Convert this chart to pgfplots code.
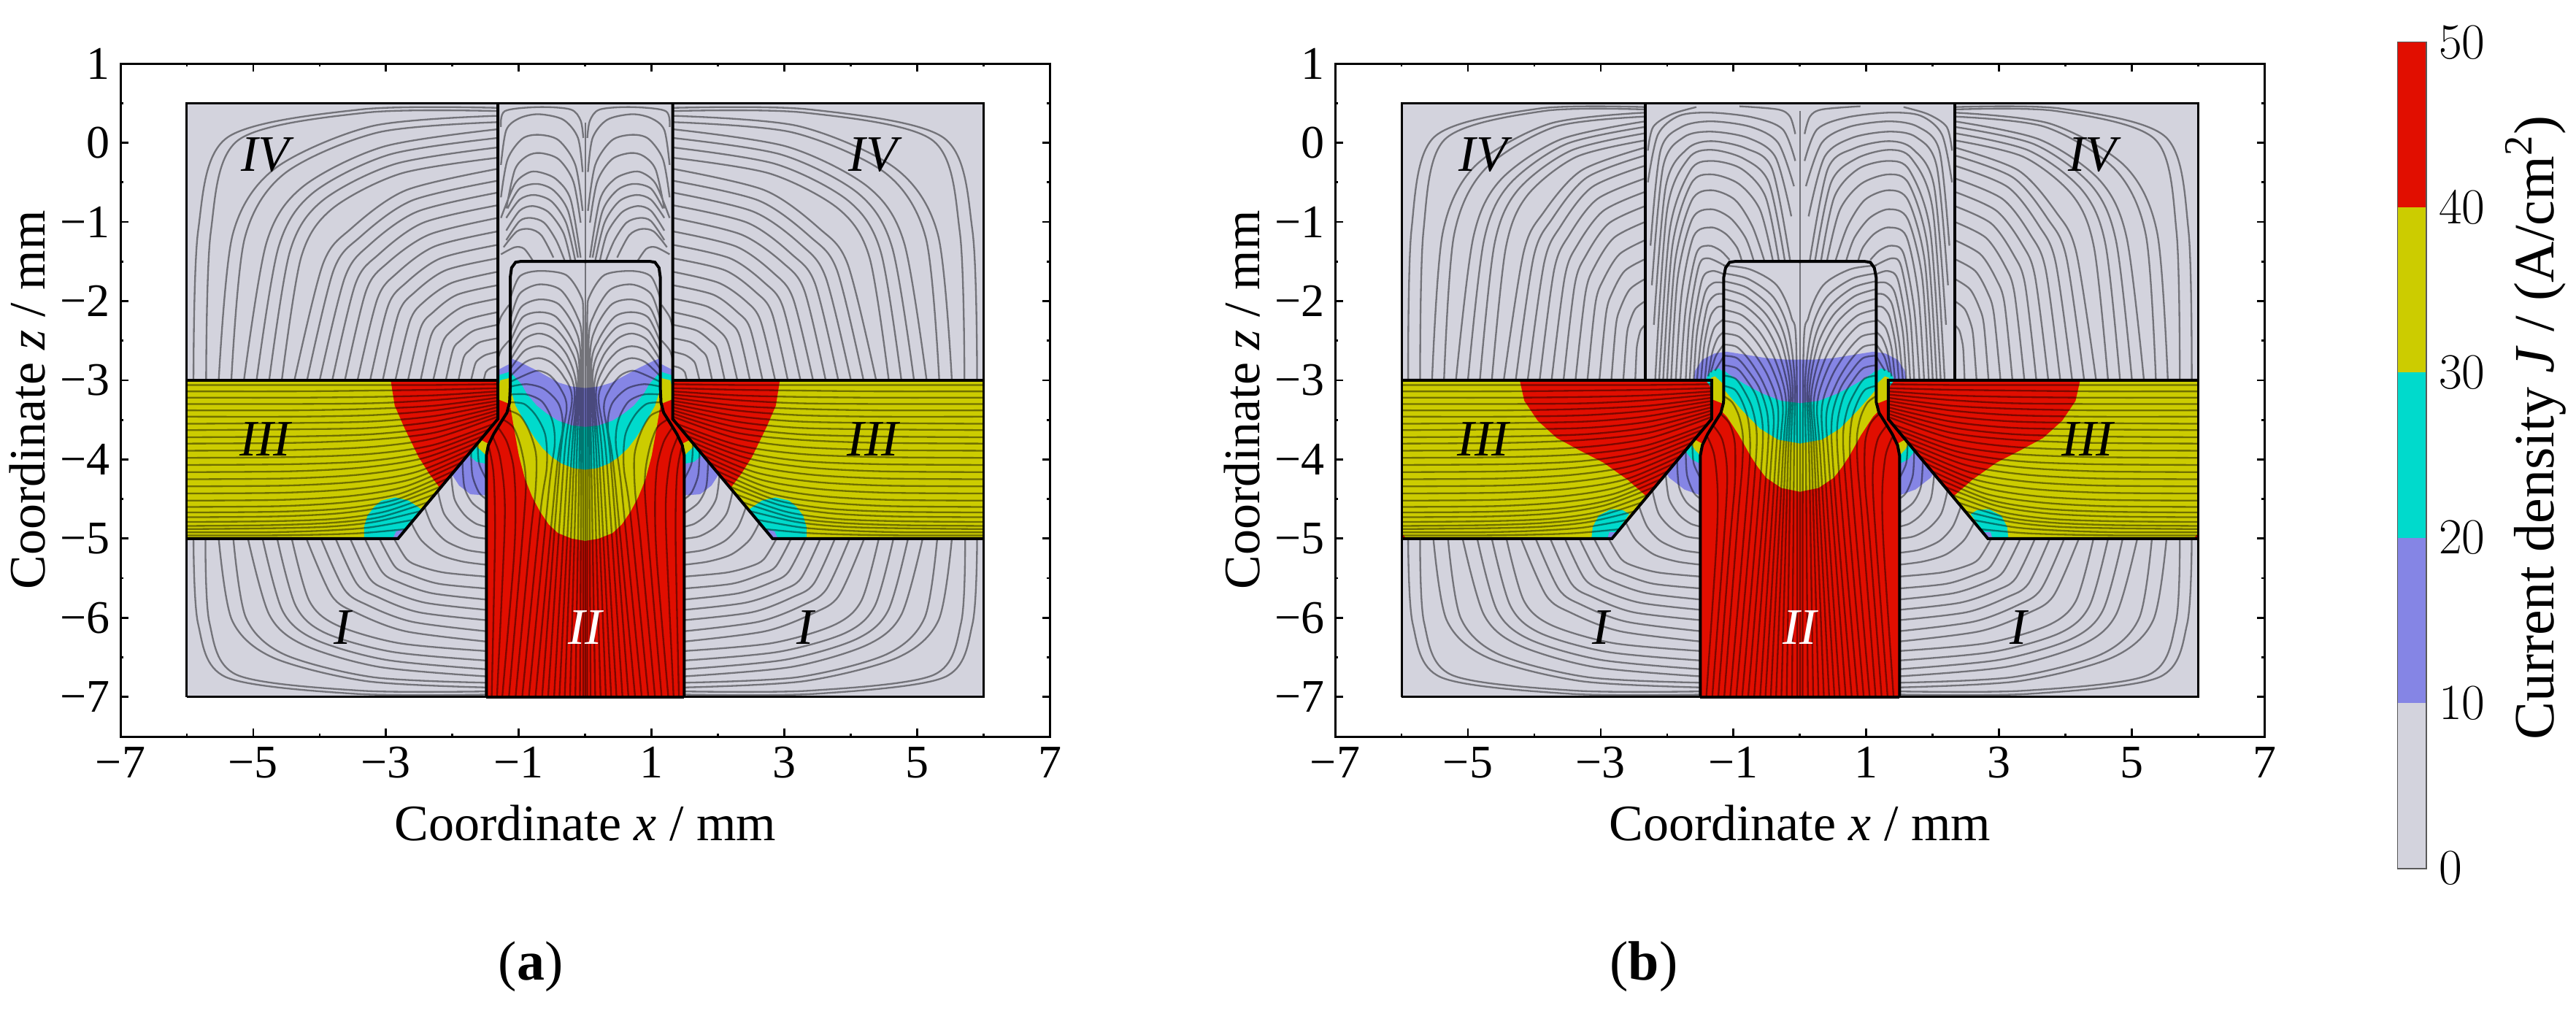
\documentclass[border=0pt]{standalone}
\usepackage{fontspec}
\setmainfont{Liberation Serif}
\usepackage{pgfplots}
\pgfplotsset{compat=1.18}

\definecolor{cgrey}{HTML}{D3D3DD}
\definecolor{cblue}{HTML}{8585E5}
\definecolor{ccyan}{HTML}{00DACC}
\definecolor{cyell}{HTML}{CCCC00}
\definecolor{cred}{HTML}{E10E00}

\tikzset{rlab/.style={font=\fontsize{17.5}{20}\selectfont\itshape}}
\pgfplotsset{
  stream/.style={smooth, black, opacity=0.45, line width=0.58pt, unbounded coords=jump},
  wall/.style={black, line width=1pt},
  ffill/.style={fill=#1, draw=none},
  panel/.style={
    scale only axis, width=318.4pt, height=230.5pt,
    xmin=-7, xmax=7, ymin=-7.5, ymax=1,
    xtick={-7,-5,...,7}, xticklabels={−7,−5,−3,−1,1,3,5,7},
    ytick={-7,-6,...,1}, yticklabels={−7,−6,−5,−4,−3,−2,−1,0,1},
    minor xtick={-6,-4,...,6}, minor ytick={-7.5,-6.5,...,0.5},
    tick align=inside, major tick length=2.75pt, minor tick length=1.1pt,
    tick style={black, line width=0.7pt},
    axis line style={line width=0.75pt},
    tick label style={font=\fontsize{16}{18}\selectfont},
    every axis x label/.style={at={(axis description cs:0.5,-0.129)}, anchor=center, font=\fontsize{17.5}{20}\selectfont},
    every axis y label/.style={at={(axis description cs:-0.0998,0.5)}, anchor=center, rotate=90, font=\fontsize{17.5}{20}\selectfont},
    xlabel={Coordinate \textit{x} / mm},
    ylabel={Coordinate \textit{z} / mm},
  },
}

% plots a left-half list and its mirror image
\newcommand{\both}[2]{%
  \addplot[#1] coordinates {#2};
  \addplot[#1, x filter/.expression={-x}] coordinates {#2};
}

% region I, same in both panels
\newcommand{\streamsI}{\both{stream}{
(-5.9,-5) (-5.83,-6.08) (-5.41,-6.75) (-3.47,-6.96) (-1.49,-6.97) (nan,nan)
(-5.72,-5) (-5.66,-6.06) (-5.25,-6.72) (-3.39,-6.92) (-1.49,-6.93) (nan,nan)
(-5.52,-5) (-5.32,-6.03) (-4.71,-6.5) (-3.3,-6.8) (-1.49,-6.88) (nan,nan)
(-5.3,-5) (-5.11,-6.0) (-4.54,-6.46) (-3.2,-6.75) (-1.49,-6.82) (nan,nan)
(-5.08,-5) (-4.76,-5.96) (-4.25,-6.34) (-3.11,-6.62) (-1.49,-6.74) (nan,nan)
(-4.86,-5) (-4.56,-5.91) (-4.08,-6.27) (-3.01,-6.53) (-1.49,-6.65) (nan,nan)
(-4.64,-5) (-4.36,-5.85) (-3.92,-6.19) (-2.91,-6.43) (-1.49,-6.54) (nan,nan)
(-4.42,-5) (-4.16,-5.78) (-3.75,-6.09) (-2.81,-6.32) (-1.49,-6.42) (nan,nan)
(-4.2,-5) (-3.82,-5.72) (-3.44,-5.94) (-2.71,-6.17) (-1.49,-6.3) (nan,nan)
(-3.98,-5) (-3.63,-5.64) (-3.28,-5.84) (-2.61,-6.05) (-1.49,-6.17) (nan,nan)
(-3.76,-5) (-3.44,-5.57) (-3.12,-5.74) (-2.51,-5.93) (-1.49,-6.03) (nan,nan)
(-3.54,-5) (-3.25,-5.5) (-2.97,-5.65) (-2.41,-5.81) (-1.49,-5.9) (nan,nan)
(-3.32,-5) (-3.06,-5.42) (-2.81,-5.55) (-2.31,-5.69) (-1.49,-5.77) (nan,nan)
(-3.1,-5) (-2.87,-5.35) (-2.65,-5.45) (-2.21,-5.57) (-1.49,-5.63) (nan,nan)
(-2.88,-5) (-2.69,-5.26) (-2.49,-5.35) (-2.12,-5.43) (-1.49,-5.48) (nan,nan)
(-2.62,-4.8) (-2.47,-5.02) (-2.2,-5.2) (-1.85,-5.29) (-1.49,-5.33) (nan,nan)
(-2.42,-4.6) (-2.3,-4.85) (-2.1,-5.03) (-1.8,-5.14) (-1.49,-5.18) (nan,nan)
(-2.22,-4.4) (-2.13,-4.68) (-1.95,-4.86) (-1.72,-4.97) (-1.49,-5.0) (nan,nan)
(-2.02,-4.2) (-1.97,-4.5) (-1.82,-4.7) (-1.65,-4.81) (-1.49,-4.85) (nan,nan)
(-1.85,-4.03) (-1.82,-4.35) (-1.7,-4.55) (-1.49,-4.68) (nan,nan)
(-1.72,-3.9) (-1.7,-4.2) (-1.6,-4.42) (-1.49,-4.5) (nan,nan)
(-1.62,-3.8) (-1.6,-4.05) (-1.49,-4.25)
}}

% region III, same in both panels
\newcommand{\streamsIII}{\both{stream}{
(-6,-3.06) (-4.36,-3.06) (-3.19,-3.06) (-2.26,-3.06) (-1.32,-3.05) (nan,nan)
(-6,-3.14) (-4.36,-3.14) (-3.19,-3.13) (-2.26,-3.12) (-1.32,-3.1) (nan,nan)
(-6,-3.22) (-4.36,-3.22) (-3.19,-3.21) (-2.26,-3.19) (-1.32,-3.14) (nan,nan)
(-6,-3.3) (-4.36,-3.3) (-3.19,-3.29) (-2.26,-3.25) (-1.32,-3.18) (nan,nan)
(-6,-3.38) (-4.36,-3.38) (-3.19,-3.36) (-2.26,-3.32) (-1.32,-3.22) (nan,nan)
(-6,-3.46) (-4.36,-3.46) (-3.19,-3.44) (-2.26,-3.38) (-1.32,-3.26) (nan,nan)
(-6,-3.55) (-4.36,-3.54) (-3.19,-3.52) (-2.26,-3.45) (-1.32,-3.3) (nan,nan)
(-6,-3.63) (-4.36,-3.62) (-3.19,-3.6) (-2.26,-3.52) (-1.32,-3.34) (nan,nan)
(-6,-3.72) (-4.36,-3.71) (-3.19,-3.68) (-2.26,-3.59) (-1.32,-3.38) (nan,nan)
(-6,-3.8) (-4.36,-3.79) (-3.19,-3.75) (-2.26,-3.66) (-1.32,-3.42) (nan,nan)
(-6,-3.89) (-4.36,-3.88) (-3.19,-3.84) (-2.26,-3.73) (-1.32,-3.46) (nan,nan)
(-6,-3.98) (-4.38,-3.97) (-3.23,-3.93) (-2.3,-3.82) (-1.38,-3.55) (nan,nan)
(-6,-4.07) (-4.41,-4.06) (-3.27,-4.02) (-2.36,-3.9) (-1.45,-3.62) (nan,nan)
(-6,-4.16) (-4.44,-4.15) (-3.32,-4.1) (-2.42,-3.98) (-1.53,-3.7) (nan,nan)
(-6,-4.25) (-4.46,-4.24) (-3.37,-4.19) (-2.49,-4.07) (-1.61,-3.78) (nan,nan)
(-6,-4.34) (-4.49,-4.33) (-3.41,-4.28) (-2.55,-4.16) (-1.69,-3.86) (nan,nan)
(-6,-4.43) (-4.52,-4.42) (-3.47,-4.37) (-2.62,-4.25) (-1.78,-3.95) (nan,nan)
(-6,-4.52) (-4.55,-4.51) (-3.52,-4.46) (-2.7,-4.34) (-1.87,-4.04) (nan,nan)
(-6,-4.6) (-4.59,-4.59) (-3.58,-4.54) (-2.78,-4.43) (-1.97,-4.14) (nan,nan)
(-6,-4.67) (-4.62,-4.66) (-3.64,-4.62) (-2.86,-4.51) (-2.07,-4.24) (nan,nan)
(-6,-4.73) (-4.66,-4.72) (-3.7,-4.68) (-2.94,-4.58) (-2.17,-4.34) (nan,nan)
(-6,-4.79) (-4.69,-4.78) (-3.76,-4.75) (-3.02,-4.66) (-2.27,-4.44) (nan,nan)
(-6,-4.84) (-4.73,-4.83) (-3.82,-4.8) (-3.1,-4.73) (-2.37,-4.54) (nan,nan)
(-6,-4.88) (-4.76,-4.87) (-3.88,-4.85) (-3.18,-4.79) (-2.47,-4.65) (nan,nan)
(-6,-4.92) (-4.8,-4.92) (-3.95,-4.9) (-3.26,-4.86) (-2.58,-4.76) (nan,nan)
(-6,-4.96) (-4.85,-4.96) (-4.02,-4.95) (-3.36,-4.93) (-2.7,-4.88)
}}

\begin{document}
\begin{tikzpicture}
\useasboundingbox (0,0) rectangle (882.25pt,346pt);

% ---------- panel (a) ----------
\begin{axis}[panel, at={(41.25pt,93.75pt)}, anchor=south west]
\addplot[ffill=cgrey] coordinates {(-6,-7) (6,-7) (6,0.5) (-6,0.5)};
% blobs round the end of the channel
\both{ffill=cblue}{(-1.4,-4.46) (-1.73,-4.44) (-1.9,-4.33) (-2.0,-4.2) (-1.6,-3.7) (-1.4,-3.7)}
\both{ffill=ccyan}{(-1.4,-4.07) (-1.64,-4.03) (-1.75,-3.95) (-1.76,-3.9) (-1.6,-3.7) (-1.4,-3.7)}
\both{ffill=cyell}{(-1.4,-3.95) (-1.49,-3.95) (-1.63,-3.84) (-1.6,-3.7) (-1.4,-3.7)}
% region III
\both{ffill=cyell}{(-6,-3) (-1.317,-3) (-1.317,-3.49) (-2.82,-5) (-6,-5)}
\both{ffill=cred}{(-2.93,-3) (-2.87,-3.32) (-2.73,-3.59) (-2.51,-3.97) (-2.35,-4.18) (-2.19,-4.36) (-1.317,-3.49) (-1.317,-3)}
\both{ffill=ccyan}{(-3.33,-5) (-3.33,-4.85) (-3.28,-4.71) (-3.18,-4.6) (-3.07,-4.52) (-2.86,-4.48) (-2.66,-4.52) (-2.47,-4.63) (-2.82,-5)}
\both{ffill=cblue}{(-2.9,-5) (-2.85,-4.91) (-2.74,-4.88) (-2.82,-5)}
% region II and the bands over it
\both{ffill=cred}{(-1.49,-7) (-1.49,-3.95) (-1.46,-3.82) (-1.38,-3.68) (-1.27,-3.53) (-1.18,-3.41) (-1.14,-3.28) (-1.0,-3.7) (-0.5,-4.3) (0.01,-4.6) (0.01,-7)}
\both{ffill=cyell}{(0.01,-5.03) (-0.2,-5.0) (-0.41,-4.93) (-0.55,-4.82) (-0.68,-4.66) (-0.8,-4.47) (-0.91,-4.24) (-1.0,-3.95) (-1.07,-3.62) (-1.135,-3.3) (-1.13,-3.05) (-0.8,-3.45) (0.01,-3.85)}
\both{ffill=ccyan}{(0.01,-4.13) (-0.18,-4.11) (-0.36,-4.05) (-0.5,-3.97) (-0.64,-3.86) (-0.76,-3.73) (-0.87,-3.59) (-1.05,-3.32) (-1.13,-3.1) (-1.13,-2.8) (-0.8,-3.0) (0.01,-3.35)}
\both{ffill=cblue}{(0.01,-3.59) (-0.2,-3.57) (-0.41,-3.51) (-0.58,-3.42) (-0.73,-3.32) (-0.88,-3.17) (-0.96,-3.05) (-1.13,-2.89) (-1.13,-2.72) (-0.99,-2.77) (-0.77,-2.86) (-0.4,-3.03) (-0.2,-3.08) (0.01,-3.1)}
% gap between the walls
\both{ffill=cblue}{(-1.317,-2.87) (-1.13,-2.79) (-1.13,-3.1) (-1.317,-3.1)}
\both{ffill=ccyan}{(-1.317,-2.94) (-1.13,-2.89) (-1.13,-3.1) (-1.317,-3.1)}
\both{ffill=cyell}{(-1.28,-3.0) (-1.13,-2.97) (-1.13,-3.35) (-1.317,-3.25) (-1.317,-3.12)}
\both{ffill=cred}{(-1.317,-3.24) (-1.14,-3.3) (-1.18,-3.41) (-1.27,-3.53) (-1.38,-3.68) (-1.46,-3.8) (-1.58,-3.75) (-1.317,-3.49)}
\streamsI
\streamsIII
% region IV
\both{stream}{
(-5.9,-3) (-5.83,-1.11) (-5.4,0.06) (-3.38,0.42) (-1.32,0.44) (nan,nan)
(-5.71,-3) (-5.64,-1.13) (-5.23,0.03) (-3.3,0.38) (-1.32,0.4) (nan,nan)
(-5.52,-3) (-5.31,-1.16) (-4.68,-0.33) (-3.21,0.21) (-1.32,0.34) (nan,nan)
(-5.33,-3) (-5.13,-1.21) (-4.53,-0.39) (-3.12,0.13) (-1.32,0.26) (nan,nan)
(-5.14,-3) (-4.8,-1.26) (-4.26,-0.56) (-3.04,-0.05) (-1.32,0.17) (nan,nan)
(-4.95,-3) (-4.62,-1.32) (-4.11,-0.64) (-2.95,-0.15) (-1.32,0.06) (nan,nan)
(-4.76,-3) (-4.45,-1.38) (-3.97,-0.74) (-2.87,-0.27) (-1.32,-0.06) (nan,nan)
(-4.57,-3) (-4.28,-1.45) (-3.82,-0.84) (-2.78,-0.39) (-1.32,-0.19) (nan,nan)
(-4.38,-3) (-3.95,-1.53) (-3.52,-1.08) (-2.7,-0.6) (-1.32,-0.33) (nan,nan)
(-4.19,-3) (-3.79,-1.61) (-3.39,-1.19) (-2.61,-0.73) (-1.32,-0.48) (nan,nan)
(-4,-3) (-3.62,-1.7) (-3.25,-1.29) (-2.53,-0.87) (-1.32,-0.63) (nan,nan)
(-3.81,-3) (-3.46,-1.78) (-3.11,-1.41) (-2.44,-1.01) (-1.32,-0.79) (nan,nan)
(-3.62,-3) (-3.3,-1.87) (-2.98,-1.52) (-2.35,-1.16) (-1.32,-0.95) (nan,nan)
(-3.43,-3) (-3.13,-1.97) (-2.84,-1.65) (-2.27,-1.31) (-1.32,-1.12) (nan,nan)
(-3.24,-3) (-2.97,-2.06) (-2.7,-1.77) (-2.18,-1.46) (-1.32,-1.29) (nan,nan)
(-3.05,-3) (-2.81,-2.15) (-2.57,-1.89) (-2.1,-1.61) (-1.32,-1.46) (nan,nan)
(-2.86,-3) (-2.64,-2.25) (-2.43,-2.01) (-2.01,-1.77) (-1.32,-1.63) (nan,nan)
(-2.67,-3) (-2.48,-2.34) (-2.29,-2.14) (-1.93,-1.92) (-1.32,-1.8) (nan,nan)
(-2.48,-3) (-2.32,-2.43) (-2.16,-2.26) (-1.84,-2.07) (-1.32,-1.97) (nan,nan)
(-2.29,-3) (-2.15,-2.53) (-2.02,-2.38) (-1.76,-2.23) (-1.32,-2.14) (nan,nan)
(-2.1,-3) (-1.99,-2.61) (-1.88,-2.5) (-1.67,-2.37) (-1.32,-2.3) (nan,nan)
(-1.91,-3) (-1.83,-2.71) (-1.74,-2.62) (-1.59,-2.52) (-1.32,-2.47) (nan,nan)
(-1.72,-3) (-1.66,-2.8) (-1.61,-2.74) (-1.5,-2.68) (-1.32,-2.64) (nan,nan)
(-1.53,-3) (-1.5,-2.9) (-1.47,-2.87) (-1.41,-2.84) (-1.32,-2.82)
}
% arches over the cap
\both{stream}{
(-1.27,0.2) (-1.21,0.4) (-0.7,0.45) (-0.22,0.42) (-0.07,0.28) (-0.03,0.06) (nan,nan)
(-1.27,-0.28) (-1.19,0.16) (-0.99,0.31) (-0.7,0.36) (-0.33,0.29) (-0.11,0.06) (-0.04,-0.37) (nan,nan)
(-1.27,-0.69) (-1.17,-0.21) (-0.95,0.05) (-0.7,0.1) (-0.4,0.03) (-0.15,-0.28) (-0.04,-0.86) (nan,nan)
(-1.19,-0.83) (-1.06,-0.34) (-0.88,-0.17) (-0.68,-0.13) (-0.4,-0.21) (-0.18,-0.49) (-0.07,-1.01) (nan,nan)
(-1.27,-0.95) (-1.06,-0.52) (-0.86,-0.38) (-0.7,-0.37) (-0.44,-0.46) (-0.22,-0.72) (-0.07,-1.45) (nan,nan)
(-1.17,-0.83) (-0.99,-0.58) (-0.73,-0.52) (-0.48,-0.6) (-0.26,-0.86) (-0.11,-1.45) (nan,nan)
(-1.19,-0.95) (-0.99,-0.72) (-0.77,-0.66) (-0.51,-0.74) (-0.29,-1.01) (-0.15,-1.49) (nan,nan)
(-1.19,-1.11) (-0.99,-0.86) (-0.79,-0.8) (-0.55,-0.88) (-0.33,-1.14) (-0.22,-1.49) (nan,nan)
(-1.19,-1.23) (-0.99,-0.99) (-0.82,-0.95) (-0.62,-1.01) (-0.44,-1.23) (-0.31,-1.49) (nan,nan)
(-1.23,-1.32) (-1.03,-1.12) (-0.84,-1.09) (-0.66,-1.17) (-0.48,-1.45) (nan,nan)
(-1.27,-1.41) (-1.06,-1.32) (-0.92,-1.34) (-0.79,-1.49) (nan,nan)
(-1.32,-2.35) (-1.27,-2.2) (-1.15,-2.05) (nan,nan)
(-1.32,-2.75) (-1.27,-2.62) (-1.15,-2.5)
}
% lines of region II into the cap
\both{stream}{
(-1.13,-1.97) (-0.99,-1.69) (-0.7,-1.62) (-0.29,-1.67) (-0.07,-1.93) (-0.03,-2.18) (-0.03,-3.5) (-0.03,-7) (nan,nan)
(-1.13,-2.24) (-0.99,-1.91) (-0.7,-1.79) (-0.37,-1.86) (-0.13,-2.18) (-0.05,-2.52) (-0.06,-4) (-0.08,-7) (nan,nan)
(-1.13,-2.4) (-0.97,-2.08) (-0.7,-1.98) (-0.4,-2.04) (-0.16,-2.34) (-0.07,-2.71) (-0.09,-4) (-0.15,-7) (nan,nan)
(-1.13,-2.52) (-0.95,-2.21) (-0.7,-2.14) (-0.44,-2.2) (-0.2,-2.49) (-0.09,-2.83) (-0.13,-4) (-0.23,-7) (nan,nan)
(-1.13,-2.64) (-0.95,-2.37) (-0.7,-2.28) (-0.46,-2.34) (-0.24,-2.58) (-0.11,-2.95) (-0.17,-4) (-0.31,-7) (nan,nan)
(-1.13,-2.75) (-0.93,-2.49) (-0.7,-2.41) (-0.48,-2.48) (-0.26,-2.71) (-0.13,-3.11) (-0.21,-4) (-0.39,-7) (nan,nan)
(-1.13,-2.86) (-0.92,-2.63) (-0.7,-2.57) (-0.49,-2.63) (-0.29,-2.83) (-0.16,-3.17) (-0.26,-4) (-0.47,-7) (nan,nan)
(-1.13,-2.95) (-0.9,-2.77) (-0.7,-2.72) (-0.51,-2.78) (-0.33,-2.95) (-0.2,-3.23) (-0.32,-4) (-0.56,-7) (nan,nan)
(-1.13,-3.02) (-0.84,-2.91) (-0.7,-2.88) (-0.53,-2.94) (-0.37,-3.11) (-0.28,-3.35) (-0.38,-4) (-0.65,-7) (nan,nan)
(-1.13,-3.08) (-0.88,-3.05) (-0.62,-3.11) (-0.4,-3.3) (-0.34,-3.6) (-0.44,-4.2) (-0.75,-7) (nan,nan)
(-1.13,-3.18) (-0.88,-3.18) (-0.65,-3.27) (-0.5,-3.5) (-0.46,-3.8) (-0.55,-4.4) (-0.85,-7) (nan,nan)
(-1.13,-3.28) (-0.92,-3.3) (-0.74,-3.45) (-0.6,-3.7) (-0.58,-4.1) (-0.68,-4.7) (-0.95,-7) (nan,nan)
(-1.16,-3.38) (-0.98,-3.45) (-0.84,-3.65) (-0.74,-3.95) (-0.75,-4.4) (-0.83,-5) (-1.05,-7) (nan,nan)
(-1.23,-3.5) (-1.08,-3.6) (-0.97,-3.85) (-0.9,-4.2) (-0.92,-4.7) (-1.15,-7) (nan,nan)
(-1.31,-3.6) (-1.18,-3.78) (-1.08,-4.1) (-1.05,-4.6) (-1.08,-5.3) (-1.25,-7) (nan,nan)
(-1.39,-3.72) (-1.29,-3.95) (-1.22,-4.4) (-1.22,-5) (-1.33,-7) (nan,nan)
(-1.45,-3.85) (-1.38,-4.2) (-1.36,-5) (-1.41,-7)
}
\addplot[stream] coordinates {(0,0.25) (0,-3) (0,-7)};
% outlines
\addplot[black, line width=0.75pt] coordinates {(-6,-7) (6,-7) (6,0.5) (-6,0.5) (-6,-7)};
\both{wall}{(-6,-3) (-1.317,-3)}
\both{wall}{(-6,-5) (-2.82,-5) (-1.317,-3.49) (-1.317,0.5)}
\both{wall}{(-1.49,-7) (-1.49,-3.95) (-1.46,-3.82) (-1.38,-3.68) (-1.27,-3.53) (-1.18,-3.41) (-1.14,-3.28) (-1.13,-3.1) (-1.13,-1.7) (-1.11,-1.58) (-1.05,-1.51) (-0.98,-1.5) (0.02,-1.5)}
\addplot[wall] coordinates {(-1.49,-7) (1.49,-7)};
\node[rlab] at (axis cs:-4.82,-0.15) {IV};
\node[rlab] at (axis cs:4.33,-0.15) {IV};
\node[rlab] at (axis cs:-4.82,-3.74) {III};
\node[rlab] at (axis cs:4.33,-3.74) {III};
\node[rlab] at (axis cs:-3.66,-6.12) {I};
\node[rlab] at (axis cs:3.31,-6.12) {I};
\node[rlab, text=white] at (axis cs:0,-6.12) {II};
\end{axis}

% ---------- panel (b) ----------
\begin{axis}[panel, at={(457.25pt,93.75pt)}, anchor=south west]
\addplot[ffill=cgrey] coordinates {(-6,-7) (6,-7) (6,0.5) (-6,0.5)};
\both{ffill=cblue}{(-1.4,-4.45) (-1.51,-4.45) (-1.74,-4.38) (-1.97,-4.23) (-2.03,-4.15) (-1.6,-3.7) (-1.4,-3.7)}
\both{ffill=ccyan}{(-1.4,-4.05) (-1.51,-4.05) (-1.63,-4.0) (-1.74,-3.88) (-1.6,-3.7) (-1.4,-3.7)}
\both{ffill=cyell}{(-1.4,-3.94) (-1.51,-3.94) (-1.58,-3.88) (-1.64,-3.8) (-1.6,-3.7) (-1.4,-3.7)}
% region III
\both{ffill=cyell}{(-6,-3) (-1.33,-3) (-1.33,-3.49) (-2.83,-5) (-6,-5)}
\both{ffill=cred}{(-4.22,-3) (-4.15,-3.26) (-3.95,-3.51) (-3.66,-3.73) (-3.33,-3.88) (-2.96,-4.04) (-2.59,-4.26) (-2.32,-4.46) (-1.33,-3.49) (-1.33,-3)}
\both{ffill=cred}{(-6,-5) (-6,-4.93) (-5.93,-5)}
\both{ffill=ccyan}{(-3.14,-5) (-3.12,-4.85) (-3.03,-4.71) (-2.85,-4.63) (-2.67,-4.64) (-2.57,-4.69) (-2.83,-5)}
\both{ffill=cblue}{(-2.9,-5) (-2.87,-4.92) (-2.78,-4.92) (-2.83,-5)}
% region II and the bands over it
\both{ffill=cred}{(-1.5,-7) (-1.5,-3.95) (-1.47,-3.82) (-1.39,-3.68) (-1.28,-3.53) (-1.19,-3.41) (-1.15,-3.38) (-1.0,-3.45) (-0.5,-4.0) (0.01,-4.1) (0.01,-7)}
\both{ffill=cyell}{(0.01,-4.41) (-0.28,-4.36) (-0.51,-4.23) (-0.63,-4.1) (-0.74,-3.96) (-0.92,-3.69) (-1.1,-3.46) (-1.17,-3.4) (-1.15,-3.08) (-0.8,-3.25) (0.01,-3.55)}
\both{ffill=ccyan}{(0.01,-3.8) (-0.33,-3.75) (-0.6,-3.61) (-0.87,-3.38) (-1.06,-3.2) (-1.15,-3.11) (-1.15,-2.8) (-0.6,-3.0) (0.01,-3.1)}
\both{ffill=cblue}{(0.01,-3.29) (-0.28,-3.26) (-0.56,-3.17) (-0.83,-3.05) (-1.06,-2.93) (-1.15,-2.87) (-1.15,-3.0) (-1.6,-3.0) (-1.58,-2.88) (-1.47,-2.74) (-1.28,-2.66) (-1.1,-2.64) (-0.8,-2.68) (-0.51,-2.72) (-0.2,-2.74) (0.01,-2.74)}
% gap between the walls
\both{ffill=ccyan}{(-1.42,-3.0) (-1.38,-2.92) (-1.3,-2.87) (-1.22,-2.85) (-1.15,-2.9) (-1.15,-3.1) (-1.33,-3.1)}
\both{ffill=cyell}{(-1.34,-2.97) (-1.28,-2.95) (-1.15,-3.05) (-1.15,-3.4) (-1.33,-3.25)}
\both{ffill=cred}{(-1.33,-3.24) (-1.15,-3.3) (-1.19,-3.41) (-1.28,-3.53) (-1.39,-3.68) (-1.47,-3.8) (-1.58,-3.75) (-1.33,-3.49)}
\streamsI
\streamsIII
% region IV
\both{stream}{
(-5.9,-3) (-5.85,-1.1) (-5.51,0.07) (-3.94,0.43) (-2.33,0.45) (nan,nan)
(-5.72,-3) (-5.67,-1.12) (-5.35,0.04) (-3.86,0.4) (-2.33,0.42) (nan,nan)
(-5.54,-3) (-5.38,-1.14) (-4.9,-0.3) (-3.77,0.24) (-2.33,0.38) (nan,nan)
(-5.36,-3) (-5.21,-1.17) (-4.75,-0.34) (-3.69,0.2) (-2.33,0.33) (nan,nan)
(-5.18,-3) (-4.92,-1.2) (-4.52,-0.48) (-3.61,0.04) (-2.33,0.27) (nan,nan)
(-5,-3) (-4.76,-1.24) (-4.39,-0.54) (-3.53,-0.02) (-2.33,0.2) (nan,nan)
(-4.82,-3) (-4.6,-1.28) (-4.25,-0.6) (-3.45,-0.1) (-2.33,0.12) (nan,nan)
(-4.64,-3) (-4.43,-1.33) (-4.11,-0.67) (-3.37,-0.18) (-2.33,0.03) (nan,nan)
(-4.46,-3) (-4.16,-1.38) (-3.86,-0.88) (-3.29,-0.35) (-2.33,-0.06) (nan,nan)
(-4.28,-3) (-4.01,-1.44) (-3.73,-0.96) (-3.21,-0.44) (-2.33,-0.16) (nan,nan)
(-4.1,-3) (-3.85,-1.51) (-3.6,-1.05) (-3.13,-0.56) (-2.33,-0.29) (nan,nan)
(-3.92,-3) (-3.7,-1.6) (-3.47,-1.16) (-3.05,-0.71) (-2.33,-0.45) (nan,nan)
(-3.74,-3) (-3.54,-1.69) (-3.35,-1.29) (-2.96,-0.86) (-2.33,-0.62) (nan,nan)
(-3.56,-3) (-3.39,-1.79) (-3.22,-1.42) (-2.88,-1.02) (-2.33,-0.8) (nan,nan)
(-3.38,-3) (-3.23,-1.9) (-3.09,-1.56) (-2.8,-1.2) (-2.33,-1.0) (nan,nan)
(-3.2,-3) (-3.08,-2.03) (-2.96,-1.73) (-2.72,-1.41) (-2.33,-1.23) (nan,nan)
(-3.02,-3) (-2.92,-2.16) (-2.83,-1.9) (-2.64,-1.62) (-2.33,-1.47) (nan,nan)
(-2.84,-3) (-2.77,-2.3) (-2.7,-2.08) (-2.56,-1.85) (-2.33,-1.72) (nan,nan)
(-2.66,-3) (-2.61,-2.45) (-2.57,-2.28) (-2.48,-2.1) (-2.33,-2.0) (nan,nan)
(-2.48,-3) (-2.46,-2.62) (-2.44,-2.5) (-2.4,-2.37) (-2.33,-2.3)
}
% arches in the wide column
\both{stream}{
(-2.29,-0.1) (-2.21,0.2) (-1.93,0.36) (-1.56,0.45) (nan,nan)
(-0.91,0.46) (-0.33,0.42) (-0.15,0.33) (-0.07,0.11) (nan,nan)
(-2.29,-0.5) (-2.14,0.1) (-1.82,0.34) (-1.34,0.38) (-0.71,0.32) (-0.26,0.17) (-0.07,-0.23) (nan,nan)
(-2.25,-1.3) (-2.1,-0.1) (-1.78,0.2) (-1.34,0.27) (-0.74,0.2) (-0.33,0) (-0.09,-0.55) (nan,nan)
(-2.23,-1.8) (-2.06,-0.3) (-1.75,0.07) (-1.34,0.14) (-0.78,0.06) (-0.37,-0.18) (-0.13,-0.93) (nan,nan)
(-2.2,-2.3) (-2.02,-0.55) (-1.7,-0.08) (-1.34,0.02) (-0.82,-0.07) (-0.42,-0.33) (-0.15,-1.48) (nan,nan)
(-2.18,-3) (-2,-0.85) (-1.68,-0.2) (-1.34,-0.09) (-0.85,-0.2) (-0.47,-0.5) (-0.23,-1.48) (nan,nan)
(-2.12,-3) (-1.96,-1.1) (-1.65,-0.35) (-1.34,-0.23) (-0.88,-0.33) (-0.52,-0.68) (-0.32,-1.48) (nan,nan)
(-2.06,-3) (-1.92,-1.3) (-1.64,-0.52) (-1.34,-0.4) (-0.92,-0.52) (-0.6,-0.85) (-0.41,-1.48) (nan,nan)
(-2,-3) (-1.88,-1.5) (-1.63,-0.73) (-1.34,-0.6) (-0.98,-0.72) (-0.72,-1.05) (-0.54,-1.48) (nan,nan)
(-1.94,-3) (-1.84,-1.7) (-1.62,-0.96) (-1.34,-0.84) (-1.05,-0.95) (-0.82,-1.2) (-0.7,-1.48) (nan,nan)
(-1.87,-3) (-1.78,-1.9) (-1.6,-1.18) (-1.34,-1.07) (-1.12,-1.15) (-0.95,-1.32) (-0.88,-1.48) (nan,nan)
(-1.8,-3) (-1.72,-2.1) (-1.56,-1.4) (-1.38,-1.3) (-1.2,-1.36) (-1.06,-1.48) (nan,nan)
(-1.72,-3) (-1.66,-2.2) (-1.52,-1.55) (-1.38,-1.46) (-1.14,-1.55) (nan,nan)
(-1.66,-3) (-1.6,-2.3) (-1.47,-1.72) (-1.32,-1.62) (-1.15,-1.66) (nan,nan)
(-1.6,-3) (-1.55,-2.4) (-1.43,-1.9) (-1.3,-1.77) (-1.15,-1.77) (nan,nan)
(-1.55,-3) (-1.49,-2.5) (-1.39,-2.05) (-1.27,-1.92) (-1.15,-1.91) (nan,nan)
(-1.49,-3) (-1.44,-2.55) (-1.35,-2.2) (-1.25,-2.08) (-1.15,-2.07) (nan,nan)
(-1.43,-2.98) (-1.38,-2.6) (-1.29,-2.34) (-1.15,-2.23) (nan,nan)
(-1.38,-2.95) (-1.32,-2.65) (-1.24,-2.47) (-1.15,-2.39) (nan,nan)
(-1.34,-2.9) (-1.27,-2.7) (-1.15,-2.55) (nan,nan)
(-1.28,-2.88) (-1.15,-2.7)
}
% lines of region II into the cap
\both{stream}{
(-1.15,-1.55) (-0.75,-1.6) (-0.35,-1.8) (-0.13,-2.2) (-0.05,-2.8) (-0.04,-7) (nan,nan)
(-1.15,-1.65) (-0.78,-1.72) (-0.4,-1.95) (-0.18,-2.35) (-0.08,-3) (-0.09,-4) (-0.12,-7) (nan,nan)
(-1.15,-1.75) (-0.8,-1.83) (-0.45,-2.07) (-0.23,-2.45) (-0.11,-3.1) (-0.14,-4) (-0.2,-7) (nan,nan)
(-1.15,-1.85) (-0.82,-1.94) (-0.5,-2.18) (-0.27,-2.55) (-0.14,-3.15) (-0.18,-4) (-0.28,-7) (nan,nan)
(-1.15,-1.97) (-0.85,-2.05) (-0.55,-2.28) (-0.32,-2.65) (-0.17,-3.2) (-0.22,-4) (-0.36,-7) (nan,nan)
(-1.15,-2.11) (-0.87,-2.18) (-0.6,-2.4) (-0.37,-2.75) (-0.21,-3.25) (-0.26,-4) (-0.44,-7) (nan,nan)
(-1.15,-2.25) (-0.9,-2.3) (-0.65,-2.52) (-0.42,-2.85) (-0.26,-3.3) (-0.31,-4) (-0.52,-7) (nan,nan)
(-1.15,-2.41) (-0.92,-2.45) (-0.7,-2.65) (-0.48,-2.95) (-0.33,-3.35) (-0.37,-4.05) (-0.6,-7) (nan,nan)
(-1.15,-2.55) (-0.95,-2.58) (-0.75,-2.76) (-0.55,-3.04) (-0.4,-3.42) (-0.44,-4.1) (-0.69,-7) (nan,nan)
(-1.15,-2.69) (-0.95,-2.72) (-0.78,-2.88) (-0.6,-3.12) (-0.48,-3.5) (-0.51,-4.2) (-0.78,-7) (nan,nan)
(-1.15,-2.81) (-0.95,-2.85) (-0.8,-3) (-0.65,-3.22) (-0.56,-3.6) (-0.6,-4.3) (-0.87,-7) (nan,nan)
(-1.15,-2.94) (-0.97,-2.98) (-0.85,-3.12) (-0.72,-3.35) (-0.65,-3.7) (-0.7,-4.4) (-0.96,-7) (nan,nan)
(-1.15,-3.07) (-0.98,-3.12) (-0.87,-3.27) (-0.78,-3.5) (-0.75,-3.85) (-0.8,-4.5) (-1.05,-7) (nan,nan)
(-1.15,-3.2) (-1.02,-3.28) (-0.92,-3.45) (-0.86,-3.7) (-0.87,-4.1) (-0.93,-4.7) (-1.14,-7) (nan,nan)
(-1.2,-3.42) (-1.06,-3.55) (-0.98,-3.8) (-0.98,-4.3) (-1.05,-5) (-1.23,-7) (nan,nan)
(-1.3,-3.58) (-1.17,-3.75) (-1.1,-4.1) (-1.12,-4.7) (-1.32,-7) (nan,nan)
(-1.39,-3.72) (-1.29,-3.95) (-1.24,-4.4) (-1.26,-5.1) (-1.41,-7)
}
\addplot[stream] coordinates {(0,0.4) (0,-3) (0,-7)};
% outlines
\addplot[black, line width=0.75pt] coordinates {(-6,-7) (6,-7) (6,0.5) (-6,0.5) (-6,-7)};
\both{wall}{(-6,-3) (-1.33,-3) (-1.33,-3.49) (-2.83,-5) (-6,-5)}
\both{wall}{(-2.33,-3) (-2.33,0.5)}
\both{wall}{(-1.5,-7) (-1.5,-3.95) (-1.47,-3.82) (-1.39,-3.68) (-1.28,-3.53) (-1.19,-3.41) (-1.15,-3.28) (-1.148,-3.1) (-1.148,-1.7) (-1.12,-1.58) (-1.06,-1.51) (-0.98,-1.5) (0.02,-1.5)}
\addplot[wall] coordinates {(-1.5,-7) (1.5,-7)};
\node[rlab] at (axis cs:-4.77,-0.15) {IV};
\node[rlab] at (axis cs:4.4,-0.15) {IV};
\node[rlab] at (axis cs:-4.77,-3.74) {III};
\node[rlab] at (axis cs:4.33,-3.74) {III};
\node[rlab] at (axis cs:-3,-6.12) {I};
\node[rlab] at (axis cs:3.29,-6.12) {I};
\node[rlab, text=white] at (axis cs:0,-6.12) {II};
\end{axis}

% ---------- colour bar ----------
\begin{axis}[
  at={(821.25pt,48.75pt)}, anchor=south west,
  scale only axis, width=9.5pt, height=282.75pt,
  xmin=0, xmax=1, ymin=0, ymax=50,
  xtick=\empty, ytick={0,10,...,50}, ytick pos=right,
  major tick length=0pt,
  axis line style={black!65, line width=0.75pt},
  yticklabel style={font=\fontsize{17.5}{20}\selectfont, anchor=west, xshift=1pt},
  every axis y label/.style={at={(axis description cs:4.97,0.533)}, anchor=center, rotate=90, font=\fontsize{19.5}{22}\selectfont},
  ylabel={Current density \textit{J} / (A/cm\textsuperscript{2})},
]
\addplot[ffill=cgrey] coordinates {(0,0) (1,0) (1,10) (0,10)};
\addplot[ffill=cblue] coordinates {(0,10) (1,10) (1,20) (0,20)};
\addplot[ffill=ccyan] coordinates {(0,20) (1,20) (1,30) (0,30)};
\addplot[ffill=cyell] coordinates {(0,30) (1,30) (1,40) (0,40)};
\addplot[ffill=cred] coordinates {(0,40) (1,40) (1,50) (0,50)};
\end{axis}

\node[font=\fontsize{19}{22}\selectfont] at (181.75pt,15pt) {(\textbf{a})};
\node[font=\fontsize{19}{22}\selectfont] at (563pt,15pt) {(\textbf{b})};
\end{tikzpicture}
\end{document}
